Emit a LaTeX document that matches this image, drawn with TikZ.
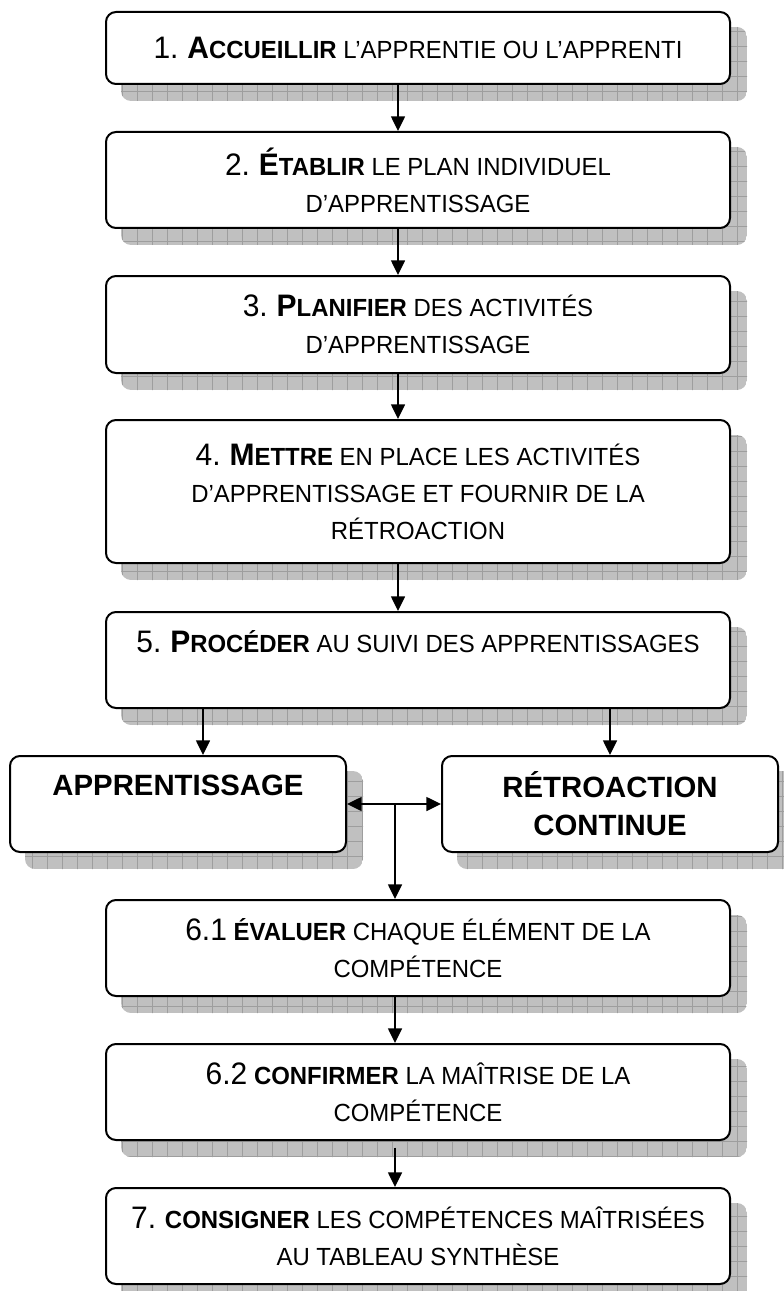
\documentclass[tikz,border=0pt]{standalone}
\usepackage{fontspec}
\setmainfont{Liberation Sans}[FakeStretch=0.965]
\newfontfamily\plainsans{Liberation Sans}
\usetikzlibrary{arrows.meta,backgrounds}
\newcommand\numsz{\fontsize{23.3pt}{27.75pt}\selectfont}
\newcommand\smsz{\fontsize{18.6pt}{27.75pt}\selectfont}
\newcommand\bigsz{\plainsans\fontsize{22pt}{28.5pt}\selectfont}
\newcommand\boxshadow[1]{%
  \begin{scope}
    \clip[rounded corners=7.5pt] ([shift={(12pt,-12pt)}]#1.north west) rectangle ([shift={(12pt,-12pt)}]#1.south east);
    \fill[shfill] ([shift={(12pt,-12pt)}]#1.north west) rectangle ([shift={(12pt,-12pt)}]#1.south east);
    \foreach \gx in {2,17,...,797} {\draw[shgrid] (\gx,0) -- (\gx,1291);}
    \foreach \gy in {1,16,...,1306} {\draw[shgrid] (0,\gy) -- (784,\gy);}
  \end{scope}}
\definecolor{shadowgray}{RGB}{192,192,192}
\definecolor{gridgray}{RGB}{158,158,158}
\begin{document}
\begin{tikzpicture}[x=0.75pt,y=-0.75pt,
  box/.style={draw, line width=1.5pt, rounded corners=7.5pt, fill=white, inner sep=0pt, align=center, font=\smsz},
  wide/.style={minimum width=468pt},
  half/.style={minimum width=252pt},
  arr/.style={line width=1.1pt, -{Triangle[length=11pt,width=10.5pt]}},
  darr/.style={line width=1.1pt, {Triangle[length=11pt,width=10.5pt]}-{Triangle[length=11pt,width=10.5pt]}},
  shfill/.style={fill=shadowgray},
  shgrid/.style={draw=gridgray, line width=0.5pt},
]
\useasboundingbox (0,0) rectangle (784,1291);

\node[box, wide, minimum height=54pt] (b1) at (418,48)
  {{\numsz 1.} \textbf{{\numsz A}CCUEILLIR} L’APPRENTIE OU L’APPRENTI};
\node[box, wide, minimum height=72pt] (b2) at (418,180)
  {{\numsz 2.} \textbf{{\numsz É}TABLIR} LE PLAN INDIVIDUEL\\ D’APPRENTISSAGE};
\node[box, wide, minimum height=72.75pt] (b3) at (418,324.5)
  {{\numsz 3.} \textbf{{\numsz P}LANIFIER} DES ACTIVITÉS\\ D’APPRENTISSAGE};
\node[box, wide, minimum height=107.25pt] (b4) at (418,491.5)
  {{\numsz 4.} \textbf{{\numsz M}ETTRE} EN PLACE LES ACTIVITÉS\\ D’APPRENTISSAGE ET FOURNIR DE LA\\ RÉTROACTION};
\node[box, wide, minimum height=72pt] (b5) at (418,660)
  {{\numsz 5.} \textbf{{\numsz P}ROCÉDER} AU SUIVI DES APPRENTISSAGES\\ \mbox{}};
\node[box, half, minimum height=72pt, font=\bigsz] (ap) at (178,804)
  {\textbf{APPRENTISSAGE}\\ \mbox{}};
\node[box, half, minimum height=72pt, font=\bigsz] (rt) at (610,804)
  {\textbf{RÉTROACTION}\\ \textbf{CONTINUE}};
\node[box, wide, minimum height=72pt] (b61) at (418,948)
  {{\numsz 6.1} \textbf{ÉVALUER} CHAQUE ÉLÉMENT DE LA\\ COMPÉTENCE};
\node[box, wide, minimum height=72pt] (b62) at (418,1092)
  {{\numsz 6.2} \textbf{CONFIRMER} LA MAÎTRISE DE LA\\ COMPÉTENCE};
\node[box, wide, minimum height=72pt] (b7) at (418,1236)
  {{\numsz 7.} \textbf{CONSIGNER} LES COMPÉTENCES MAÎTRISÉES\\ AU TABLEAU SYNTHÈSE};

\begin{scope}[on background layer]
  \boxshadow{b1}\boxshadow{b2}\boxshadow{b3}\boxshadow{b4}\boxshadow{b5}
  \boxshadow{ap}\boxshadow{rt}\boxshadow{b61}\boxshadow{b62}\boxshadow{b7}
\end{scope}

\coordinate (xa) at (398,0);
\coordinate (xb) at (395,0);
\coordinate (xl) at (203,0);
\coordinate (xr) at (610,0);
\coordinate (tj) at (395,804);
\coordinate (g62) at ([yshift=-5pt]b62.south);

\draw[arr] (b1.south -| xa) -- (b2.north -| xa);
\draw[arr] (b2.south -| xa) -- (b3.north -| xa);
\draw[arr] (b3.south -| xa) -- (b4.north -| xa);
\draw[arr] (b4.south -| xa) -- (b5.north -| xa);
\draw[arr] (b5.south -| xl) -- (ap.north -| xl);
\draw[arr] (b5.south -| xr) -- (rt.north -| xr);
\draw[darr] (ap.east) -- (rt.west);
\draw[arr] (tj) -- (b61.north -| tj);
\draw[arr] (b61.south -| xb) -- (b62.north -| xb);
\draw[arr] (g62 -| xb) -- (b7.north -| xb);
\end{tikzpicture}
\end{document}
